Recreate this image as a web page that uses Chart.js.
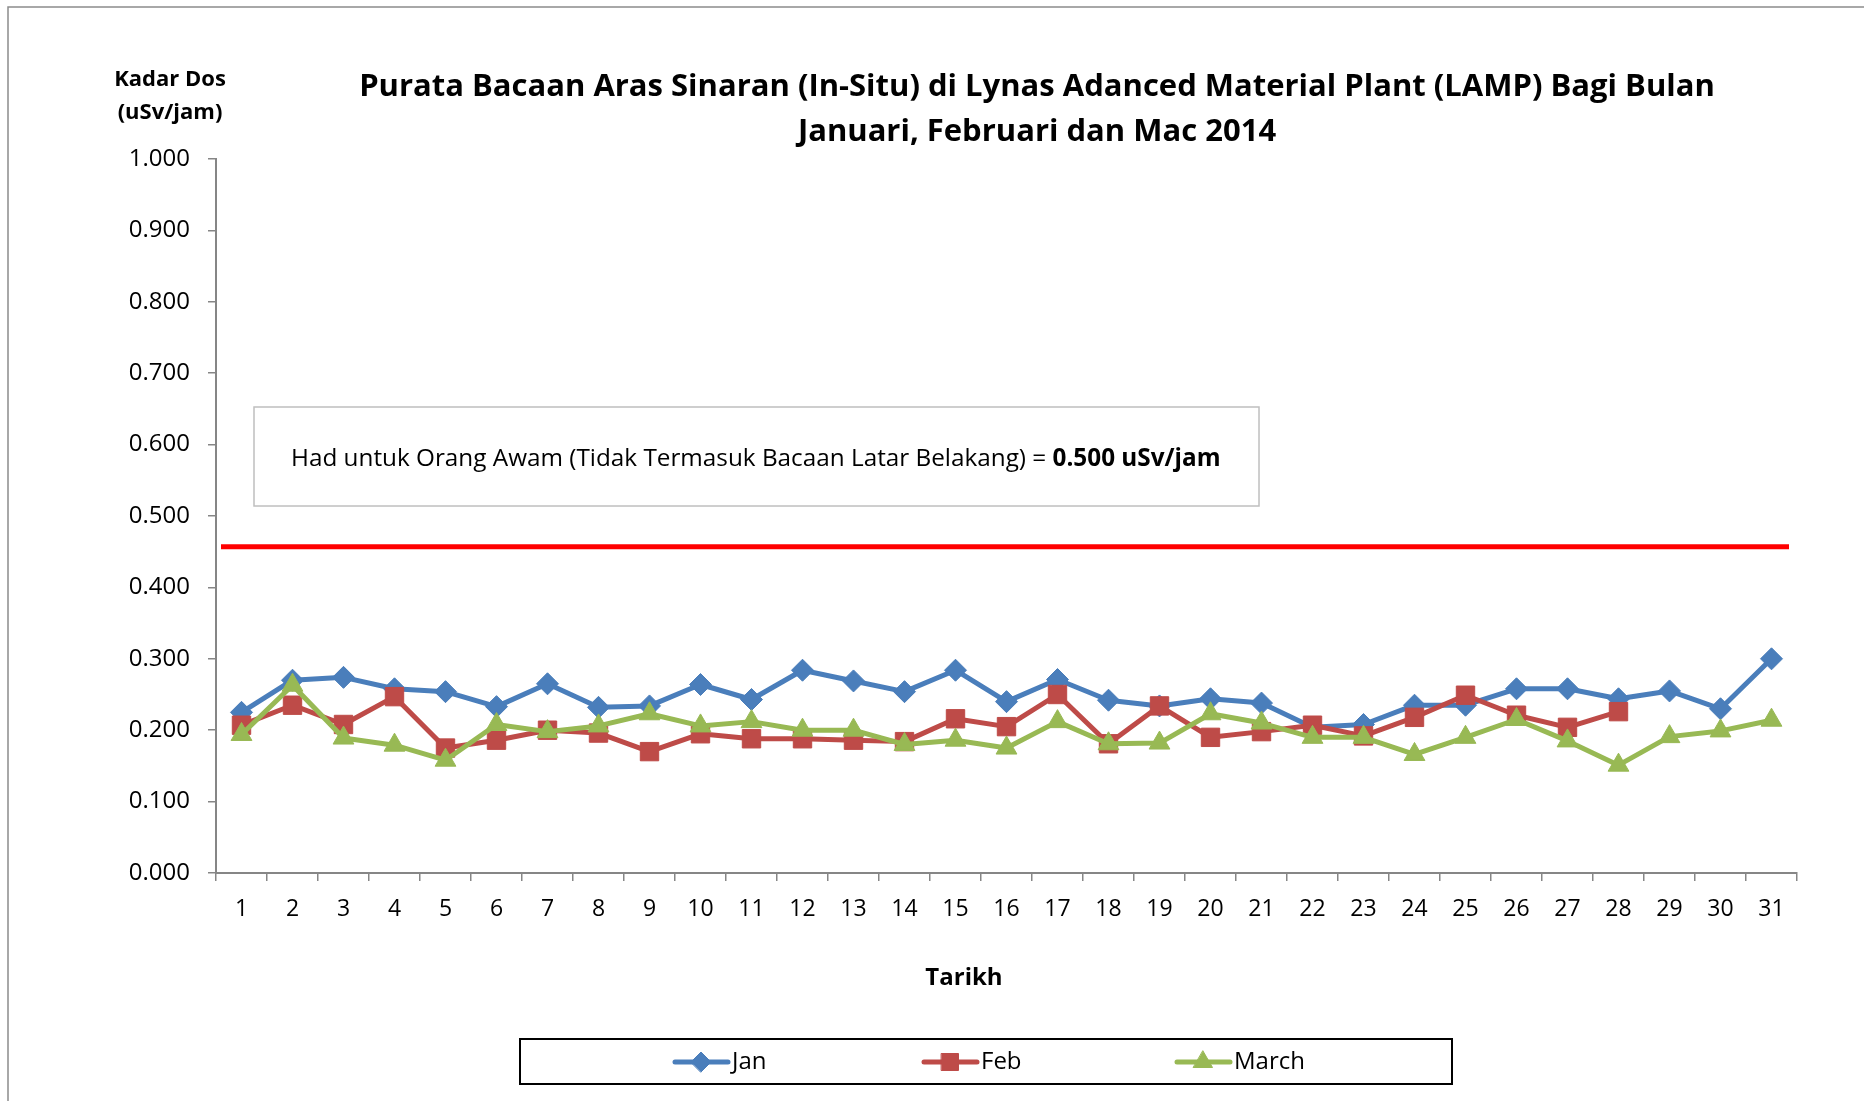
<!DOCTYPE html>
<html>
<head>
<meta charset="utf-8">
<title>Purata Bacaan Aras Sinaran - LAMP 2014</title>
<script src="https://cdn.jsdelivr.net/npm/chart.js@4.4.1/dist/chart.umd.min.js"></script>
<style>
    html, body { margin: 0; padding: 0; background: #fff; }
    #wrap { width: 1864px; height: 1101px; }
</style>
</head>
<body>
<div id="wrap"><canvas id="radChart" width="1864" height="1101"></canvas></div>
<script>
// Data (uSv/jam)
const days = ['1', '2', '3', '4', '5', '6', '7', '8', '9', '10', '11', '12', '13', '14', '15', '16',
              '17', '18', '19', '20', '21', '22', '23', '24', '25', '26', '27', '28', '29', '30', '31'];
const janValues = [0.225, 0.270, 0.274, 0.258, 0.254, 0.233, 0.265, 0.232, 0.234, 0.264, 0.243, 0.284, 0.269, 0.254, 0.284, 0.240,
                   0.271, 0.242, 0.234, 0.244, 0.238, 0.204, 0.208, 0.235, 0.235, 0.258, 0.258, 0.244, 0.255, 0.230, 0.300];
const febValues = [0.207, 0.235, 0.208, 0.247, 0.175, 0.186, 0.200, 0.196, 0.170, 0.195, 0.188, 0.188, 0.186, 0.184, 0.216, 0.205,
                   0.250, 0.181, 0.234, 0.190, 0.198, 0.207, 0.192, 0.218, 0.249, 0.221, 0.204, 0.226];
const marValues = [0.194, 0.263, 0.189, 0.179, 0.158, 0.208, 0.198, 0.206, 0.223, 0.206, 0.212, 0.200, 0.200, 0.180, 0.186, 0.175,
                   0.212, 0.181, 0.182, 0.223, 0.210, 0.190, 0.190, 0.166, 0.190, 0.215, 0.185, 0.151, 0.191, 0.199, 0.214];
const seriesNames = ['Jan', 'Feb', 'March'];
const yMin = 0, yMax = 1, yStep = 0.1;
const limitValue = 0.457;   // where the red limit line sits on the axis

const titleLines = ['Purata Bacaan Aras Sinaran (In-Situ) di Lynas Adanced Material Plant (LAMP) Bagi Bulan',
                    'Januari, Februari dan Mac 2014'];
const yTitleLines = ['Kadar Dos', '(uSv/jam)'];
const xTitle = 'Tarikh';
const noteText = 'Had untuk Orang Awam (Tidak Termasuk Bacaan Latar Belakang) = ';
const noteBold = '0.500 uSv/jam';

const BLUE = '#4a7ebb', RED = '#be4b48', GREEN = '#98b954';
const AXIS = '#868686';
const FONT = "'Open Sans', sans-serif";

Chart.defaults.font.family = FONT;
Chart.defaults.color = '#000';

// Frame, titles, note box, limit line and legend
const decorPlugin = {
    id: 'decor',
    beforeDraw(chart) {
        const ctx = chart.ctx;
        ctx.save();
        ctx.fillStyle = '#fff';
        ctx.fillRect(0, 0, chart.width, chart.height);
        ctx.strokeStyle = '#8c8c8c';
        ctx.lineWidth = 1.5;
        ctx.beginPath();
        ctx.moveTo(8, chart.height);
        ctx.lineTo(8, 7);
        ctx.lineTo(chart.width, 7);
        ctx.stroke();
        ctx.restore();
    },
    afterDatasetsDraw(chart) {
        const ctx = chart.ctx;
        const area = chart.chartArea;
        const y = chart.scales.y.getPixelForValue(limitValue);
        ctx.save();
        ctx.strokeStyle = '#ff0000';
        ctx.lineWidth = 5;
        ctx.beginPath();
        ctx.moveTo(area.left + 5, y);
        ctx.lineTo(area.right - 8, y);
        ctx.stroke();
        ctx.restore();
    },
    afterDraw(chart) {
        const ctx = chart.ctx;
        ctx.save();
        ctx.fillStyle = '#000';
        ctx.textBaseline = 'middle';
        ctx.textAlign = 'center';

        ctx.font = 'bold 31px ' + FONT;
        ctx.fillText(titleLines[0], 1037, 87);
        ctx.fillText(titleLines[1], 1037, 132);

        ctx.font = 'bold 22px ' + FONT;
        ctx.fillText(yTitleLines[0], 170, 80);
        ctx.fillText(yTitleLines[1], 170, 113);

        ctx.font = 'bold 24px ' + FONT;
        ctx.fillText(xTitle, 964, 978);

        // note box
        ctx.strokeStyle = '#bfbfbf';
        ctx.lineWidth = 1.5;
        ctx.strokeRect(254, 407, 1005, 99);
        ctx.textAlign = 'left';
        ctx.font = '24.3px ' + FONT;
        ctx.fillText(noteText, 291, 459);
        const w = ctx.measureText(noteText).width;
        ctx.font = 'bold 24.3px ' + FONT;
        ctx.fillText(noteBold, 291 + w, 459);

        // legend
        ctx.strokeStyle = '#000';
        ctx.lineWidth = 2;
        ctx.strokeRect(520, 1039, 932, 45);
        const ly = 1062;
        const items = [
            {x: 675, color: BLUE, style: 'rectRot', r: 10},
            {x: 924, color: RED, style: 'rect', r: 12},
            {x: 1177, color: GREEN, style: 'triangle', r: 11}
        ];
        ctx.font = '24px ' + FONT;
        items.forEach((it, i) => {
            ctx.strokeStyle = it.color;
            ctx.fillStyle = it.color;
            ctx.lineWidth = 5;
            ctx.lineCap = 'round';
            ctx.beginPath();
            ctx.moveTo(it.x, ly);
            ctx.lineTo(it.x + 53, ly);
            ctx.stroke();
            ctx.lineWidth = 1;
            Chart.helpers.drawPoint(ctx, {pointStyle: it.style, radius: it.r, rotation: 0, borderWidth: 1}, it.x + 26, ly);
            ctx.fillStyle = '#000';
            ctx.fillText(seriesNames[i], it.x + 57, ly);
        });
        ctx.restore();
    }
};

const ctx = document.getElementById('radChart').getContext('2d');
new Chart(ctx, {
    type: 'line',
    data: {
        labels: days,
        datasets: [
            {
                label: seriesNames[0], data: janValues, order: 3,
                borderColor: BLUE, backgroundColor: BLUE, borderWidth: 5,
                pointStyle: 'rectRot', pointRadius: 11, pointBorderWidth: 1
            },
            {
                label: seriesNames[1], data: febValues, order: 2,
                borderColor: RED, backgroundColor: RED, borderWidth: 5,
                pointStyle: 'rect', pointRadius: 13, pointBorderWidth: 1
            },
            {
                label: seriesNames[2], data: marValues, order: 1,
                borderColor: GREEN, backgroundColor: GREEN, borderWidth: 5,
                pointStyle: 'triangle', pointRadius: 12, pointBorderWidth: 1
            }
        ]
    },
    options: {
        responsive: false,
        animation: false,
        events: [],
        elements: {
            line: {tension: 0, borderJoinStyle: 'round', borderCapStyle: 'round'}
        },
        layout: {padding: {left: 0, top: 159, right: 67, bottom: 0}},
        plugins: {
            legend: {display: false},
            title: {display: false},
            tooltip: {enabled: false}
        },
        scales: {
            x: {
                type: 'category',
                offset: true,
                grid: {drawOnChartArea: false, offset: true, tickLength: 8, color: AXIS, lineWidth: 1.5},
                border: {color: AXIS, width: 2},
                ticks: {padding: 15, font: {size: 23}, maxRotation: 0, autoSkip: false},
                afterFit(scale) { scale.height = 228; }
            },
            y: {
                min: yMin,
                max: yMax,
                grid: {drawOnChartArea: false, tickLength: 8, color: AXIS, lineWidth: 1.5},
                border: {color: AXIS, width: 2},
                ticks: {
                    stepSize: yStep,
                    padding: 18,
                    font: {size: 24},
                    callback: value => value.toFixed(3)
                },
                afterFit(scale) { scale.width = 216; }
            }
        }
    },
    plugins: [decorPlugin]
});
</script>
</body>
</html>
